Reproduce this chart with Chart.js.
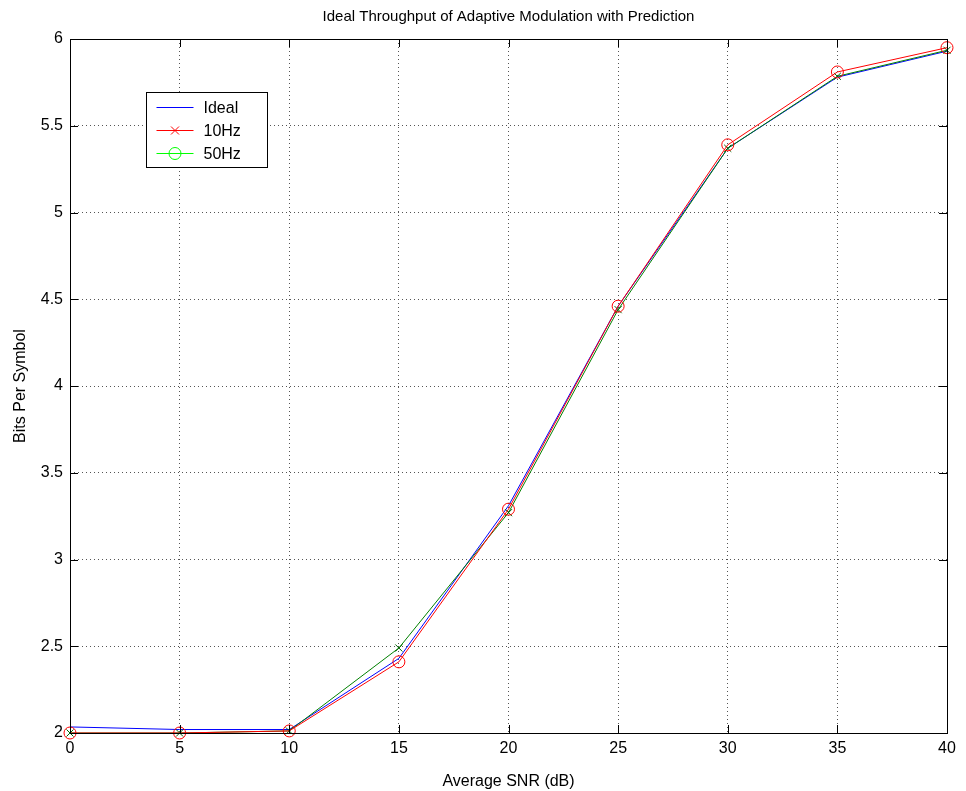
<!DOCTYPE html>
<html>
<head>
<meta charset="utf-8">
<title>Ideal Throughput</title>
<script src="https://cdn.jsdelivr.net/npm/chart.js@4.4.1/dist/chart.umd.min.js"></script>
<style>
  body { margin: 0; background: #fff; }
  #wrap { width: 966px; height: 791px; }
</style>
</head>
<body>
<div id="wrap"><canvas id="throughputChart" width="966" height="791"></canvas></div>
<script>
// values
const snrDb = [0, 5, 10, 15, 20, 25, 30, 35, 40];
const idealBits = [2.035, 2.02, 2.02, 2.43, 3.31, 4.46, 5.37, 5.78, 5.93];
const bits10Hz = [2.0, 2.0, 2.012, 2.41, 3.29, 4.46, 5.39, 5.81, 5.95];
const bits50Hz = [2.0, 2.0, 2.012, 2.49, 3.27, 4.44, 5.37, 5.785, 5.935];
const legendNames = ['Ideal', '10Hz', '50Hz'];
const legendColors = ['#0000ff', '#ff0000', '#00ff00'];
const legendMarkers = [null, 'x', 'o'];

const FONT = "Arial, 'Liberation Sans', sans-serif";

function toPoints(ys) {
    return snrDb.map((x, i) => ({ x: x, y: ys[i] }));
}

// MATLAB style frame with inward ticks + legend box inside the axes
const matlabFrame = {
    id: 'matlabFrame',
    afterDraw(chart) {
        const ctx = chart.ctx;
        const a = chart.chartArea;
        const xs = chart.scales.x, ys = chart.scales.y;
        const tl = 8;
        ctx.save();
        ctx.strokeStyle = '#000';
        ctx.lineWidth = 1;
        ctx.beginPath();
        xs.ticks.forEach(t => {
            const px = Math.round(xs.getPixelForValue(t.value)) + 0.5;
            ctx.moveTo(px, a.bottom); ctx.lineTo(px, a.bottom - tl);
            ctx.moveTo(px, a.top); ctx.lineTo(px, a.top + tl);
        });
        ys.ticks.forEach(t => {
            const py = Math.round(ys.getPixelForValue(t.value)) + 0.5;
            ctx.moveTo(a.left, py); ctx.lineTo(a.left + tl, py);
            ctx.moveTo(a.right, py); ctx.lineTo(a.right - tl, py);
        });
        ctx.stroke();
        ctx.strokeRect(Math.round(a.left) + 0.5, Math.round(a.top) + 0.5,
            Math.round(a.right - a.left), Math.round(a.bottom - a.top));

        // legend
        const bx = 146.5, by = 92.5, bw = 121, bh = 75;
        ctx.fillStyle = '#fff';
        ctx.fillRect(bx, by, bw, bh);
        ctx.strokeRect(bx, by, bw, bh);
        ctx.font = '16px ' + FONT;
        ctx.textBaseline = 'middle';
        legendNames.forEach((name, i) => {
            const y = by + 15 + i * 23;
            ctx.strokeStyle = legendColors[i];
            ctx.beginPath();
            ctx.moveTo(bx + 10, y); ctx.lineTo(bx + 47, y);
            ctx.stroke();
            const mx = bx + 28.5;
            if (legendMarkers[i] === 'x') {
                ctx.beginPath();
                ctx.moveTo(mx - 4, y - 4); ctx.lineTo(mx + 4, y + 4);
                ctx.moveTo(mx - 4, y + 4); ctx.lineTo(mx + 4, y - 4);
                ctx.stroke();
            } else if (legendMarkers[i] === 'o') {
                ctx.beginPath();
                ctx.arc(mx, y, 6, 0, Math.PI * 2);
                ctx.stroke();
            }
            ctx.fillStyle = '#000';
            ctx.fillText(name, bx + 57, y + 1);
        });
        ctx.restore();
    }
};

const ctx = document.getElementById('throughputChart').getContext('2d');
new Chart(ctx, {
    type: 'line',
    data: {
        datasets: [
            {
                label: legendNames[0],
                data: toPoints(idealBits),
                borderColor: '#0000ff',
                borderWidth: 1,
                pointRadius: 0,
                order: 3
            },
            {
                label: legendNames[1],
                data: toPoints(bits10Hz),
                borderColor: '#ff0000',
                borderWidth: 1,
                pointStyle: 'circle',
                pointRadius: 6,
                pointBorderWidth: 1,
                pointBorderColor: '#ff0000',
                pointBackgroundColor: 'rgba(0,0,0,0)',
                order: 1
            },
            {
                label: legendNames[2],
                data: toPoints(bits50Hz),
                borderColor: '#008000',
                borderWidth: 1,
                pointStyle: 'crossRot',
                pointRadius: 5,
                pointBorderWidth: 1,
                pointBorderColor: '#006400',
                order: 2
            }
        ]
    },
    options: {
        responsive: false,
        animation: false,
        layout: { padding: { left: 0, right: 19, top: 0, bottom: 0 } },
        datasets: { line: { tension: 0, clip: false } },
        plugins: {
            legend: { display: false },
            tooltip: { enabled: false },
            title: {
                display: true,
                fullSize: false,
                text: 'Ideal Throughput of Adaptive Modulation with Prediction',
                color: '#000',
                font: { family: FONT, size: 15, weight: 'normal', lineHeight: 1.2 },
                padding: { top: 8, bottom: 13 }
            }
        },
        scales: {
            x: {
                type: 'linear',
                min: 0,
                max: 40,
                ticks: {
                    stepSize: 5, color: '#000', padding: 6, font: { family: FONT, size: 16 },
                    callback: v => String(v)
                },
                grid: { color: '#555', drawTicks: false },
                border: { display: false, dash: [1, 3] },
                title: {
                    display: true,
                    text: 'Average SNR (dB)',
                    color: '#000',
                    font: { family: FONT, size: 16, lineHeight: 1.2 },
                    padding: { top: 7, bottom: 0 }
                },
                afterFit(s) { s.height = 58; }
            },
            y: {
                type: 'linear',
                min: 2,
                max: 6,
                ticks: {
                    stepSize: 0.5, color: '#000', padding: 7, font: { family: FONT, size: 16 },
                    callback: v => String(v)
                },
                grid: { color: '#555', drawTicks: false },
                border: { display: false, dash: [1, 3] },
                title: {
                    display: true,
                    text: 'Bits Per Symbol',
                    color: '#000',
                    font: { family: FONT, size: 16, lineHeight: 1.2 },
                    padding: { top: 11, bottom: 0 }
                },
                afterFit(s) { s.width = 70; }
            }
        }
    },
    plugins: [matlabFrame]
});
</script>
</body>
</html>
